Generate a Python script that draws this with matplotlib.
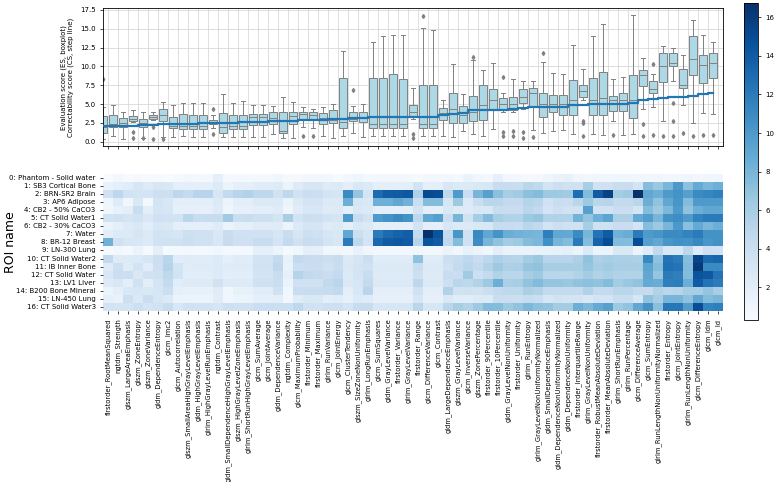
import matplotlib
matplotlib.use('Agg')
import matplotlib.pyplot as plt
import numpy as np
import seaborn as sns

features = [
    'firstorder_RootMeanSquared', 'ngtdm_Strength', 'glszm_LargeAreaEmphasis', 'glszm_ZoneEntropy',
    'glszm_ZoneVariance', 'gldm_DependenceEntropy', 'glcm_Imc2', 'glcm_Autocorrelation',
    'glszm_SmallAreaHighGrayLevelEmphasis', 'gldm_HighGrayLevelEmphasis', 'glrlm_HighGrayLevelRunEmphasis',
    'ngtdm_Contrast', 'gldm_SmallDependenceHighGrayLevelEmphasis', 'glszm_HighGrayLevelZoneEmphasis',
    'glrlm_ShortRunHighGrayLevelEmphasis', 'glcm_SumAverage', 'glcm_JointAverage', 'gldm_DependenceVariance',
    'ngtdm_Complexity', 'glcm_MaximumProbability', 'firstorder_Minimum', 'firstorder_Maximum',
    'glrlm_RunVariance', 'glcm_JointEnergy', 'glcm_ClusterTendency', 'glszm_SizeZoneNonUniformity',
    'glrlm_LongRunEmphasis', 'glcm_SumSquares', 'gldm_GrayLevelVariance', 'firstorder_Variance',
    'glrlm_GrayLevelVariance', 'firstorder_Range', 'glcm_DifferenceVariance', 'glcm_Contrast',
    'gldm_LargeDependenceEmphasis', 'glszm_GrayLevelVariance', 'glcm_InverseVariance', 'glszm_ZonePercentage',
    'firstorder_90Percentile', 'firstorder_10Percentile', 'gldm_GrayLevelNonUniformity', 'firstorder_Uniformity',
    'glrlm_RunEntropy', 'glrlm_GrayLevelNonUniformityNormalized', 'gldm_SmallDependenceEmphasis',
    'gldm_DependenceNonUniformityNormalized', 'gldm_DependenceNonUniformity', 'firstorder_InterquartileRange',
    'glrlm_GrayLevelNonUniformity', 'firstorder_RobustMeanAbsoluteDeviation', 'firstorder_MeanAbsoluteDeviation',
    'glrlm_ShortRunEmphasis', 'glrlm_RunPercentage', 'glcm_DifferenceAverage', 'glcm_SumEntropy',
    'glrlm_RunLengthNonUniformityNormalized', 'firstorder_Entropy', 'glcm_JointEntropy',
    'glrlm_RunLengthNonUniformity', 'glcm_DifferenceEntropy', 'glcm_Idm', 'glcm_Id',
]

roi_names = [
    '0: Phantom - Solid water', '1: SB3 Cortical Bone', '2: BRN-SR2 Brain', '3: AP6 Adipose',
    '4: CB2 - 50% CaCO3', '5: CT Solid Water1', '6: CB2 - 30% CaCO3', '7: Water', '8: BR-12 Breast',
    '9: LN-300 Lung', '10: CT Solid Water2', '11: IB Inner Bone', '12: CT Solid Water', '13: LV1 Liver',
    '14: B200 Bone Mineral', '15: LN-450 Lung', '16: CT Solid Water3',
]

# correctability score per feature (step line)
cs_scores = [2.05, 2.08, 2.1, 2.15, 2.2, 2.25, 2.3, 2.35, 2.4, 2.42, 2.45, 2.5, 2.5, 2.55, 2.6, 2.6,
             2.65, 2.7, 2.75, 2.8, 2.85, 2.9, 2.95, 3.0, 3.05, 3.1, 3.2, 3.3, 3.3, 3.3, 3.3, 3.3,
             3.32, 3.35, 3.55, 3.75, 3.8, 4.2, 4.2, 4.25, 4.25, 4.3, 4.5, 4.55, 4.55, 4.6, 4.6,
             4.9, 4.9, 4.95, 4.95, 5.0, 5.0, 5.2, 5.5, 5.7, 5.75, 5.9, 5.95, 6.1, 6.4, 6.45]

# evaluation score, one list per feature, values for ROI 0..16
es_values = [
    [0.3, 1.5, 3.6, 1.1, 1.0, 3.5, 1.4, 2.0, 8.3, 0.5, 4.6, 2.3, 2.9, 2.4, 1.2, 1.8, 3.4],
    [0.8, 1.9, 4.9, 2.3, 1.6, 3.6, 1.9, 2.6, 3.7, 0.75, 2.4, 3.8, 4.0, 2.9, 2.0, 1.5, 3.3],
    [0.4, 2.2, 3.5, 0.9, 2.0, 3.2, 2.4, 2.5, 3.0, 0.5, 2.6, 2.3, 3.9, 2.0, 2.8, 3.8, 3.3],
    [0.5, 3.0, 3.3, 2.8, 4.2, 3.5, 2.7, 3.1, 2.9, 1.3, 2.6, 3.4, 2.7, 3.6, 3.0, 2.65, 3.8],
    [0.45, 2.4, 3.2, 0.7, 2.0, 2.7, 2.1, 2.5, 2.6, 0.5, 3.0, 2.2, 3.5, 2.0, 2.8, 4.0, 3.3],
    [0.4, 3.0, 3.8, 3.3, 3.1, 3.7, 2.9, 3.4, 3.5, 2.0, 3.9, 3.85, 3.6, 3.2, 3.0, 2.95, 3.45],
    [0.3, 2.8, 3.8, 2.9, 3.0, 3.5, 2.8, 3.3, 3.6, 0.6, 5.0, 5.3, 4.8, 4.5, 3.9, 2.6, 4.3],
    [0.6, 1.8, 4.9, 2.0, 1.7, 3.4, 1.9, 3.0, 3.6, 0.7, 2.2, 3.3, 3.4, 2.1, 1.8, 1.2, 2.9],
    [0.75, 1.8, 4.4, 2.0, 1.7, 5.1, 1.9, 3.8, 3.9, 0.8, 2.3, 2.2, 2.1, 2.4, 1.6, 1.2, 3.7],
    [0.65, 1.8, 5.2, 2.0, 1.7, 4.2, 1.9, 3.7, 3.6, 0.7, 2.2, 2.3, 2.1, 2.4, 1.6, 1.2, 3.5],
    [0.65, 1.8, 5.2, 2.0, 1.7, 4.3, 1.9, 3.7, 3.6, 0.7, 2.2, 2.3, 2.1, 2.4, 1.6, 1.2, 3.5],
    [1.8, 2.4, 3.0, 2.5, 2.4, 4.3, 2.35, 2.7, 2.9, 1.0, 2.5, 2.6, 2.45, 3.5, 2.3, 2.2, 3.1],
    [0.65, 1.3, 4.5, 1.2, 1.1, 6.3, 1.25, 4.1, 4.3, 0.7, 1.9, 2.2, 2.0, 2.4, 1.0, 0.9, 3.8],
    [0.65, 1.8, 5.2, 2.0, 1.7, 4.0, 1.9, 3.7, 3.75, 0.7, 2.2, 2.3, 2.1, 2.4, 1.6, 1.2, 3.6],
    [0.65, 1.8, 5.45, 2.0, 1.7, 4.2, 1.9, 3.7, 3.75, 0.7, 2.2, 2.3, 2.1, 2.4, 1.6, 1.2, 3.6],
    [0.65, 2.2, 4.9, 2.5, 2.0, 3.8, 2.3, 3.7, 4.2, 1.9, 3.4, 3.5, 3.3, 3.6, 2.2, 1.8, 4.0],
    [0.65, 2.2, 4.9, 2.5, 2.0, 3.8, 2.3, 3.7, 4.2, 1.9, 3.4, 3.5, 3.3, 3.6, 2.2, 1.8, 4.0],
    [1.0, 2.4, 3.5, 2.6, 2.3, 3.3, 2.35, 3.0, 3.2, 1.2, 4.5, 4.75, 4.2, 4.0, 3.6, 2.0, 3.9],
    [0.5, 1.2, 4.8, 1.3, 1.1, 6.0, 1.25, 4.2, 4.5, 0.6, 1.6, 1.5, 1.7, 1.4, 0.9, 0.8, 3.9],
    [0.55, 2.4, 3.5, 2.5, 2.2, 3.4, 2.6, 3.0, 3.6, 1.0, 4.6, 3.9, 5.3, 3.7, 4.1, 2.3, 4.8],
    [0.75, 3.0, 4.0, 3.2, 2.9, 3.9, 3.1, 3.8, 4.1, 2.0, 4.3, 4.0, 4.55, 3.7, 4.2, 2.8, 3.6],
    [0.75, 3.0, 3.9, 3.2, 2.9, 3.8, 3.1, 3.7, 4.0, 1.8, 4.2, 4.0, 4.4, 3.6, 4.1, 2.8, 3.5],
    [0.75, 2.4, 3.2, 2.5, 2.3, 3.4, 2.35, 3.0, 3.3, 1.0, 3.9, 3.6, 4.0, 4.55, 4.3, 2.0, 3.85],
    [0.45, 2.5, 3.0, 2.6, 2.4, 3.1, 2.5, 2.8, 2.9, 1.0, 4.3, 4.2, 4.5, 5.0, 4.6, 2.2, 3.8],
    [0.75, 1.9, 11.0, 8.5, 1.8, 10.0, 1.85, 9.0, 12.0, 0.8, 2.6, 2.7, 2.5, 2.65, 2.0, 1.7, 3.2],
    [1.1, 2.8, 6.9, 3.0, 2.7, 4.2, 2.75, 3.9, 4.8, 1.5, 3.1, 3.3, 3.2, 3.0, 2.9, 2.6, 4.3],
    [0.65, 2.6, 3.3, 2.7, 2.5, 3.4, 2.6, 3.1, 3.2, 1.0, 4.0, 3.6, 4.2, 4.5, 5.0, 2.3, 4.3],
    [0.75, 1.9, 13.0, 8.4, 1.8, 10.0, 1.85, 12.0, 13.2, 0.8, 2.3, 2.5, 2.4, 2.6, 2.0, 1.7, 3.0],
    [0.75, 1.9, 13.8, 8.4, 1.8, 10.5, 1.85, 13.0, 14.0, 0.8, 2.3, 2.5, 2.4, 2.6, 2.0, 1.7, 3.0],
    [0.75, 1.9, 14.0, 9.0, 1.8, 11.0, 1.85, 13.5, 14.2, 0.8, 2.3, 2.5, 2.4, 2.6, 2.0, 1.7, 3.0],
    [0.75, 1.9, 14.2, 8.3, 1.8, 10.5, 1.85, 13.8, 14.0, 0.8, 2.3, 2.5, 2.4, 2.6, 2.0, 1.7, 3.0],
    [0.55, 3.4, 5.6, 4.0, 3.3, 4.9, 3.4, 4.5, 5.2, 1.0, 7.1, 4.1, 3.8, 4.9, 3.7, 3.0, 5.0],
    [0.75, 1.9, 15.1, 7.5, 1.8, 9.0, 1.85, 16.7, 14.5, 0.8, 2.3, 2.5, 2.4, 2.6, 2.0, 1.7, 3.0],
    [0.75, 1.9, 14.9, 7.5, 1.8, 9.5, 1.85, 14.5, 14.0, 0.8, 2.3, 2.5, 2.4, 2.6, 2.0, 1.7, 3.0],
    [0.75, 2.9, 4.8, 3.0, 2.8, 4.0, 2.9, 4.5, 4.75, 1.2, 3.9, 3.7, 4.2, 3.85, 5.5, 2.7, 5.0],
    [0.65, 2.5, 10.0, 6.5, 2.4, 8.0, 2.5, 10.3, 7.5, 1.0, 4.3, 4.5, 4.0, 5.0, 3.5, 2.2, 6.0],
    [1.45, 2.5, 4.0, 2.6, 2.4, 3.5, 2.5, 3.6, 3.7, 1.6, 4.75, 5.0, 6.3, 4.8, 3.55, 2.2, 5.5],
    [1.0, 2.8, 8.0, 4.0, 2.7, 6.1, 2.8, 11.2, 10.9, 1.3, 4.1, 4.5, 3.8, 5.5, 3.5, 2.5, 6.5],
    [0.7, 2.9, 9.5, 5.0, 2.8, 7.6, 2.9, 9.0, 8.0, 1.0, 4.9, 5.5, 4.5, 6.5, 4.0, 2.5, 7.6],
    [1.65, 4.3, 7.3, 5.0, 4.2, 6.0, 4.3, 10.4, 7.0, 2.0, 5.7, 6.5, 5.5, 8.5, 4.5, 4.0, 7.5],
    [0.75, 4.3, 6.0, 4.5, 4.2, 5.5, 4.3, 8.55, 6.2, 1.35, 5.3, 5.6, 5.0, 5.8, 4.8, 4.0, 6.5],
    [0.75, 4.2, 6.4, 4.5, 4.1, 5.5, 4.2, 8.3, 6.5, 1.4, 5.2, 5.8, 5.0, 6.0, 4.8, 3.9, 7.0],
    [0.55, 5.1, 7.2, 5.3, 5.0, 6.5, 5.1, 8.1, 7.5, 1.35, 6.2, 6.8, 6.0, 7.0, 5.8, 4.3, 7.8],
    [0.65, 4.7, 7.5, 5.0, 4.6, 6.8, 4.65, 8.05, 7.8, 1.5, 6.65, 7.0, 6.5, 7.6, 5.5, 4.0, 7.2],
    [1.1, 3.3, 6.5, 3.5, 3.2, 5.5, 3.3, 11.8, 10.6, 1.5, 5.2, 6.0, 5.0, 6.8, 4.5, 3.0, 7.0],
    [1.4, 3.9, 6.5, 4.2, 3.8, 5.5, 3.9, 9.1, 8.0, 1.6, 5.2, 6.0, 5.0, 6.8, 4.5, 3.5, 6.2],
    [1.55, 3.6, 6.4, 4.0, 3.5, 5.5, 3.6, 8.95, 7.5, 1.8, 5.2, 6.0, 5.0, 6.6, 4.5, 3.3, 6.2],
    [1.0, 3.6, 12.85, 5.0, 3.5, 8.2, 3.6, 11.0, 12.0, 1.3, 5.7, 6.0, 5.5, 7.0, 4.5, 3.2, 8.5],
    [0.75, 6.0, 7.6, 6.5, 9.6, 6.9, 6.0, 8.0, 7.5, 2.55, 7.0, 6.8, 6.2, 7.2, 5.5, 2.75, 7.8],
    [1.0, 3.6, 14.0, 5.0, 3.5, 8.4, 3.6, 12.5, 13.5, 1.3, 5.75, 6.0, 5.5, 7.0, 4.5, 3.2, 8.8],
    [0.9, 3.6, 15.6, 5.2, 3.5, 9.2, 3.6, 14.0, 15.0, 1.3, 6.0, 6.3, 5.8, 7.5, 4.5, 3.2, 9.5],
    [0.9, 4.1, 6.1, 4.5, 4.0, 5.75, 4.1, 8.3, 7.6, 2.75, 5.8, 6.0, 5.5, 6.2, 5.0, 4.2, 6.5],
    [0.9, 4.1, 6.5, 4.5, 4.0, 5.75, 4.1, 8.6, 7.5, 2.75, 5.8, 6.0, 5.5, 6.6, 5.0, 4.2, 7.0],
    [1.0, 3.2, 16.8, 5.0, 3.1, 8.8, 3.2, 12.0, 15.0, 1.3, 5.75, 6.0, 5.5, 7.0, 4.5, 3.0, 9.0],
    [0.75, 7.4, 9.0, 8.5, 7.5, 9.75, 7.4, 10.0, 9.5, 2.3, 11.1, 9.2, 9.0, 8.8, 4.4, 7.0, 10.5],
    [0.9, 6.6, 8.5, 7.0, 6.5, 8.0, 6.55, 10.3, 9.0, 4.55, 7.1, 7.5, 6.8, 8.6, 5.5, 6.0, 7.3],
    [0.75, 7.9, 10.0, 9.0, 7.8, 10.5, 7.9, 11.0, 10.2, 2.75, 12.5, 12.7, 12.0, 11.8, 5.0, 8.0, 12.2],
    [0.75, 10.1, 10.5, 10.3, 10.0, 10.8, 10.1, 11.0, 10.6, 2.8, 12.0, 12.5, 11.8, 11.9, 5.2, 8.05, 12.2],
    [1.1, 7.2, 9.6, 7.5, 7.0, 10.0, 7.3, 11.5, 10.5, 4.9, 7.4, 7.6, 7.5, 8.5, 6.0, 7.1, 9.8],
    [0.75, 8.8, 11.0, 10.0, 8.5, 11.5, 8.8, 12.0, 11.1, 2.45, 15.5, 16.1, 14.5, 14.0, 6.0, 9.0, 15.0],
    [0.9, 7.9, 11.3, 10.0, 9.0, 12.0, 7.85, 10.5, 10.2, 3.85, 13.0, 11.0, 14.2, 12.5, 6.9, 7.5, 11.5],
    [0.9, 8.4, 11.7, 10.0, 9.0, 12.0, 8.5, 10.5, 10.55, 3.7, 13.3, 11.0, 12.5, 12.0, 6.0, 8.0, 11.8],
]

es = np.array(es_values)
pos = np.arange(len(features))

fig = plt.figure(figsize=(7.77, 4.82), dpi=100)
ax_box = fig.add_axes([0.133, 0.697, 0.798, 0.286])
ax_map = fig.add_axes([0.133, 0.355, 0.798, 0.284])
cax = fig.add_axes([0.958, 0.336, 0.0175, 0.658])

# boxplot of ES per feature + CS step line
edge = '#808080'
ax_box.boxplot(list(es), positions=pos, widths=0.8, patch_artist=True,
               boxprops=dict(facecolor='#add8e6', edgecolor=edge, linewidth=0.7),
               medianprops=dict(color=edge, linewidth=0.7),
               whiskerprops=dict(color=edge, linewidth=0.7),
               capprops=dict(color=edge, linewidth=0.7),
               flierprops=dict(marker='d', markerfacecolor=edge, markeredgecolor=edge, markersize=2))
ax_box.step(pos, cs_scores, where='mid', color='#1f77b4', lw=1.6, zorder=5)
ax_box.set_xlim(0, len(features))
ax_box.set_xticks(pos + 0.5)
ax_box.set_xticklabels([])
ax_box.set_ylim(-0.57, 17.73)
ax_box.set_yticks(np.arange(0, 17.6, 2.5))
ax_box.tick_params(labelsize=5, length=2, width=0.5)
ax_box.grid(True, color='#d9d9d9', lw=0.6)
ax_box.set_axisbelow(True)
ax_box.set_ylabel('Evaluation score (ES, boxplot)\nCorrectability score (CS, step line)', fontsize=5)
for s in ax_box.spines.values():
    s.set_linewidth(0.6)

# heatmap of ES per ROI and feature
sns.heatmap(es.T, ax=ax_map, cbar_ax=cax, cmap='Blues', vmin=0.3, vmax=16.75,
            xticklabels=features, yticklabels=roi_names)
ax_map.tick_params(length=2, width=0.5)
ax_map.set_xticklabels(features, rotation=90, fontsize=4.9)
ax_map.set_yticklabels(roi_names, rotation=0, fontsize=5)
ax_map.set_ylabel('ROI name', fontsize=9)
ax_map.yaxis.set_label_coords(-0.14, 0.5)

cax.tick_params(labelsize=5, length=2, width=0.5)
cax.set_yticks(range(2, 17, 2))
cbar = ax_map.collections[0].colorbar
cbar.outline.set_linewidth(0.6)

fig.savefig('out.png', dpi=100)
